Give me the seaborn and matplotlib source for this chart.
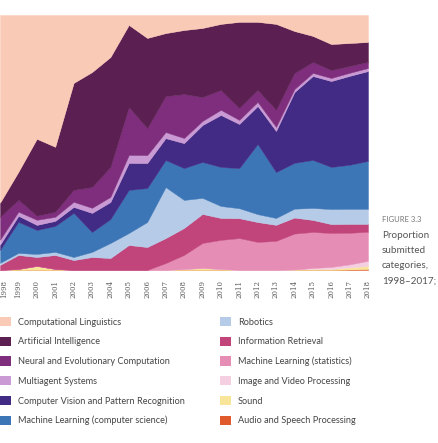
import matplotlib
matplotlib.use("Agg")
import matplotlib.pyplot as plt
import matplotlib.patches as mpatches
import pandas as pd
import seaborn as sns

sns.set_theme(style="white")

years = list(range(1998, 2019))

# legend order (top of the stack first)
categories = [
    "Computational Linguistics",
    "Artificial Intelligence",
    "Neural and Evolutionary Computation",
    "Multiagent Systems",
    "Computer Vision and Pattern Recognition",
    "Machine Learning (computer science)",
    "Robotics",
    "Information Retrieval",
    "Machine Learning (statistics)",
    "Image and Video Processing",
    "Sound",
    "Audio and Speech Processing",
]
colors = [
    "#f9cbb6", "#5b1f52", "#7e2e7c", "#c99ad4", "#412b84", "#3c76b6",
    "#b6cbe8", "#c1457b", "#e68db6", "#f4cfe1", "#f8e59a", "#e05a2b",
]

# shares in percent, 1998..2018
comp_ling = [73.7, 61.6, 48.6, 51.8, 26.7, 22.4, 16.5, 3.9, 9.0, 7.1, 5.9,
             5.1, 3.5, 2.7, 2.7, 3.5, 6.3, 8.2, 11.4, 11.0, 10.6]
artificial_intel = [5.5, 11.0, 30.2, 25.5, 42.0, 45.1, 43.1, 32.2, 35.3, 24.7, 25.1,
                    27.1, 25.9, 33.7, 26.7, 33.7, 16.5, 10.2, 10.2, 9.0, 7.8]
neural_evo = [9.0, 4.7, 1.6, 2.0, 4.7, 8.2, 11.8, 18.8, 10.6, 14.1, 17.3,
              9.4, 7.8, 4.7, 4.7, 6.7, 6.3, 4.3, 3.1, 2.7, 2.4]
multiagent = [2.0, 1.6, 2.0, 1.6, 2.0, 2.0, 2.0, 3.1, 3.1, 2.4, 2.0,
              1.6, 2.0, 1.6, 1.6, 1.6, 1.2, 1.2, 1.2, 1.2, 1.2]
comp_vision = [2.0, 2.4, 2.0, 2.0, 2.4, 7.5, 6.7, 10.6, 9.8, 8.6, 9.8,
               14.5, 20.4, 17.3, 14.9, 16.1, 27.8, 32.9, 33.7, 34.9, 35.3]
ml_cs = [5.1, 12.2, 9.4, 10.2, 17.3, 7.8, 9.4, 16.9, 13.3, 10.6, 12.5,
         14.1, 15.3, 15.7, 27.5, 18.0, 18.0, 18.8, 16.5, 17.3, 18.8]
robotics = [0.8, 0.8, 1.2, 1.2, 1.2, 2.0, 5.9, 4.7, 9.8, 20.0, 11.0,
            6.3, 4.7, 3.9, 3.1, 2.7, 3.5, 4.7, 5.9, 5.9, 5.9]
info_retrieval = [2.0, 5.5, 3.5, 5.5, 3.9, 5.1, 4.7, 9.8, 9.0, 9.8, 10.6,
                  11.4, 8.6, 7.8, 7.8, 6.3, 6.3, 4.7, 3.5, 3.5, 3.1]
ml_stats = [0, 0, 0, 0, 0, 0, 0, 0, 0, 2.7, 5.5,
            9.8, 11.4, 12.5, 11.0, 11.4, 14.1, 14.1, 13.3, 12.4, 11.4]
image_video = [0, 0, 0, 0, 0, 0, 0, 0, 0, 0, 0,
               0, 0, 0, 0, 0, 0, 0.4, 0.8, 1.2, 2.0]
sound = [0, 0.4, 1.6, 0.4, 0, 0, 0, 0, 0, 0, 0.4,
         0.8, 0.4, 0, 0, 0, 0.2, 0.4, 0.4, 0.8, 1.2]
audio_speech = [0, 0, 0, 0, 0, 0, 0, 0, 0, 0, 0,
                0, 0, 0, 0, 0, 0, 0, 0, 0.2, 0.4]

series = [comp_ling, artificial_intel, neural_evo, multiagent, comp_vision, ml_cs,
          robotics, info_retrieval, ml_stats, image_video, sound, audio_speech]
df = pd.DataFrame(dict(zip(categories, series)), index=years)
share = df.div(df.sum(axis=1), axis=0)

W, H = 439, 443
fig = plt.figure(figsize=(W / 100, H / 100), dpi=100)
ax = fig.add_axes([0, 1 - 270 / H, 368 / W, 255 / H])

stack_order = categories[::-1]
stack_colors = colors[::-1]
ax.stackplot(share.index, *[share[c] for c in stack_order],
             colors=stack_colors, linewidth=0.3, edgecolor="face")

ax.set_xlim(1998, 2018)
ax.set_ylim(0, 1)
ax.set_yticks([])
ax.set_xticks(years)
labels = ax.set_xticklabels([str(y) for y in years], rotation=90, fontsize=5,
                            family="DejaVu Serif", color="#5a5a5a")
labels[0].set_ha("left")
ax.tick_params(axis="x", length=0, pad=7)
sns.despine(ax=ax, left=True, bottom=True)

# side caption next to the chart
fig.text(382 / W, 1 - 220 / H, "FIGURE 3.3", fontsize=5.5, color="#777777",
         family="Lato", va="center", ha="left")
caption = ["Proportion", "submitted", "categories,", "1998\u20132017;"]
for line, ypx in zip(caption, [235, 250, 265, 281]):
    fig.text(382 / W, 1 - ypx / H, line, fontsize=7.1, color="#555555",
             family="Lato", va="center", ha="left")

handles = [mpatches.Patch(facecolor=c, edgecolor="none", label=l)
           for l, c in zip(categories, colors)]
for col, xpx in enumerate([0, 220]):
    leg = fig.legend(handles=handles[col * 6:(col + 1) * 6], loc="upper left",
                     bbox_to_anchor=(xpx / W, 1 - 317 / H), frameon=False,
                     handlelength=1.15, handleheight=1.15,
                     handletextpad=0.8, labelspacing=1.1, borderpad=0,
                     borderaxespad=0, prop={"family": "Lato", "size": 6.6})
    for t in leg.get_texts():
        t.set_color("#444444")

fig.savefig("out.png", dpi=100, facecolor="white")
